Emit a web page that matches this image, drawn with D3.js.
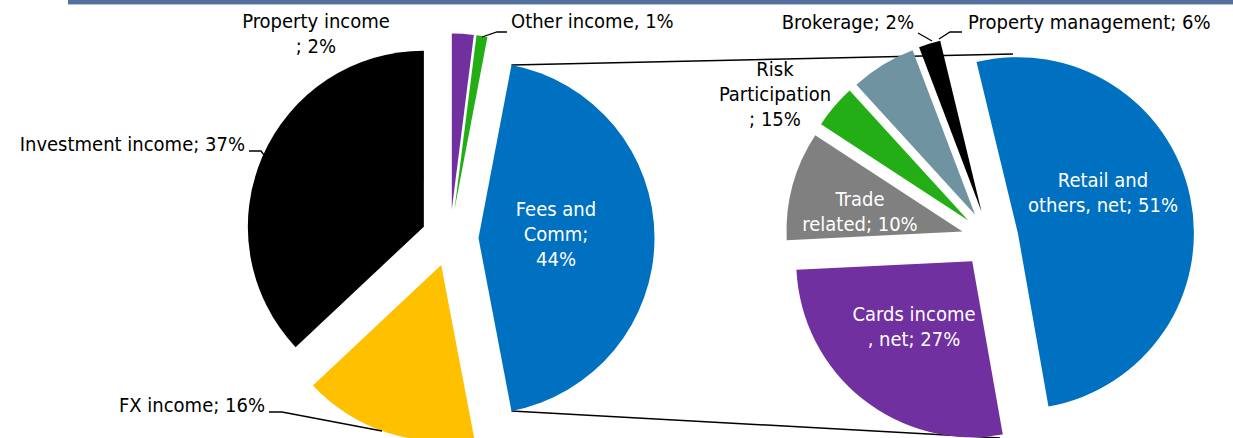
<!DOCTYPE html>
<html>
<head>
<meta charset="utf-8">
<script src="https://cdn.jsdelivr.net/npm/d3@7"></script>
<style>
  body { margin: 0; background: #fff; }
  svg { display: block; font-family: 'DejaVu Sans Condensed', 'DejaVu Sans', sans-serif; font-size: 20px; }
</style>
</head>
<body>
<svg width="1233" height="438"></svg>
<script>
// left pie: income split
var leftCats = ['Property income', 'Other income', 'Fees and Comm', 'FX income', 'Investment income']
var leftValues = [2, 1, 44, 16, 37]
var leftColors = ['#7030A0', '#22AE14', '#0070C0', '#FFC000', '#000000']

// right pie: fees and commission breakdown
var rightCats = ['Retail and others, net', 'Cards income, net', 'Trade related', 'Risk Participation', 'Property management', 'Brokerage']
var rightValues = [51, 27, 10, 4, 6, 2]
var rightColors = ['#0070C0', '#7030A0', '#808080', '#22AE14', '#6F93A0', '#000000']

// label texts as printed on the chart
var leftLabels = [['Property income', '; 2%'], ['Other income, 1%'], ['Fees and', 'Comm;', '44%'], ['FX income; 16%'], ['Investment income; 37%']]
var rightLabels = [['Retail and', 'others, net; 51%'], ['Cards income', ', net; 27%'], ['Trade', 'related; 10%'], ['Risk', 'Participation', '; 15%'], ['Property management; 6%'], ['Brokerage; 2%']]

var svg = d3.select('svg')

var R = 176,
    boom = 28.5,
    lineH = 25

// header bar
svg.append('rect')
    .attr('x', 68).attr('y', 0)
    .attr('width', 1165).attr('height', 4)
    .style('fill', '#52719f')
svg.append('line')
    .attr('x1', 68).attr('x2', 1233)
    .attr('y1', 4.5).attr('y2', 4.5)
    .style('stroke', '#b3c2da')

var arc = d3.arc().innerRadius(0).outerRadius(R)

function explode(d) {
    var m = (d.startAngle + d.endAngle) / 2
    return [boom * Math.sin(m), -boom * Math.cos(m)]
}

function makePie(values, start) {
    return d3.pie().sort(null).value(v => v)
        .startAngle(start).endAngle(start + 2 * Math.PI)(values)
}

var leftC = [450, 238],
    rightC = [990, 239]

var leftArcs = makePie(leftValues, 0)
var rightArcs = makePie(rightValues, -13.6 * Math.PI / 180)

// connector lines from the split slice to the second pie (drawn under the pies)
var fees = leftArcs[2]
var fo = explode(fees)
var feesTop = [leftC[0] + fo[0] + R * Math.sin(fees.startAngle), leftC[1] + fo[1] - R * Math.cos(fees.startAngle)]
var feesBot = [leftC[0] + fo[0] + R * Math.sin(fees.endAngle), leftC[1] + fo[1] - R * Math.cos(fees.endAngle)]
var conTargets = [[1013, 54], [1000, 438]]

svg.append('line')
    .attr('x1', feesTop[0]).attr('y1', feesTop[1])
    .attr('x2', conTargets[0][0]).attr('y2', conTargets[0][1])
    .style('stroke', 'black').style('stroke-width', 1.5)
svg.append('line')
    .attr('x1', feesBot[0]).attr('y1', feesBot[1])
    .attr('x2', conTargets[1][0]).attr('y2', conTargets[1][1])
    .style('stroke', 'black').style('stroke-width', 1.5)

function drawPie(arcs, center, colors) {
    svg.append('g')
        .attr('transform', 'translate(' + center[0] + ',' + center[1] + ')')
        .selectAll('path')
        .data(arcs)
        .join('path')
        .attr('transform', d => 'translate(' + explode(d) + ')')
        .attr('d', arc)
        .style('fill', (d, i) => colors[i])
}

drawPie(leftArcs, leftC, leftColors)
drawPie(rightArcs, rightC, rightColors)

// leader lines
var leaders = [
    [[249, 151], [261, 151], [264, 155]],
    [[269, 412], [282, 412], [382, 431]],
    [[507, 32], [497, 32], [482, 37]],
    [[918, 33], [932, 41]],
    [[962, 32], [950, 32], [939, 39]]
]
svg.selectAll('.leader')
    .data(leaders)
    .join('path')
    .attr('class', 'leader')
    .attr('d', d3.line())
    .style('fill', 'none')
    .style('stroke', 'black')
    .style('stroke-width', 1.3)

// label placement: [x, first line y, anchor, colour]
var leftPlace = [[316, 21, 'middle', '#000'], [511, 21, 'start', '#000'], [556, 209, 'middle', '#fff'], [265, 405, 'end', '#000'], [245, 144, 'end', '#000']]
var rightPlace = [[1103, 180, 'middle', '#fff'], [914, 314, 'middle', '#fff'], [860, 199, 'middle', '#fff'], [775, 69, 'middle', '#000'], [968, 22, 'start', '#000'], [914, 22, 'end', '#000']]

function drawLabels(labels, place) {
    labels.forEach((lines, i) => {
        var p = place[i]
        var t = svg.append('text')
            .attr('text-anchor', p[2])
            .style('fill', p[3])
        lines.forEach((s, j) => {
            t.append('tspan')
                .attr('x', p[0])
                .attr('y', p[1] + j * lineH)
                .attr('dominant-baseline', 'central')
                .text(s)
        })
    })
}

drawLabels(leftLabels, leftPlace)
drawLabels(rightLabels, rightPlace)
</script>
</body>
</html>
